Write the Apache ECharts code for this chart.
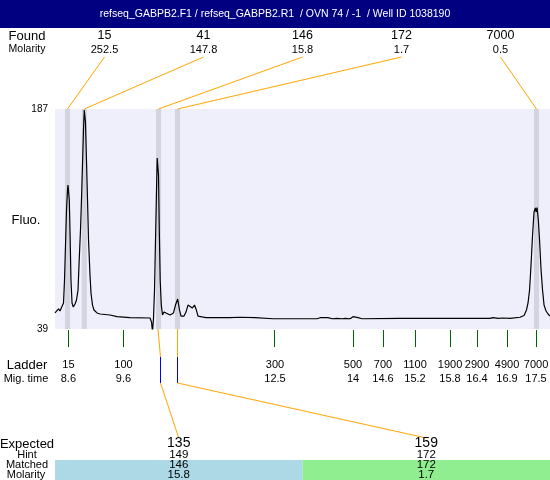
<!DOCTYPE html>
<html>
<head>
<meta charset="utf-8">
<script src="https://cdn.jsdelivr.net/npm/echarts@6/dist/echarts.min.js"></script>
<style>html,body{margin:0;padding:0;background:#fff;}#c{width:550px;height:480px;}</style>
</head>
<body>
<div id="c"></div>
<script>
// ---------- data ----------
const titleText = 'refseq_GABPB2.F1 / refseq_GABPB2.R1  / OVN 74 / -1  / Well ID 1038190';
const yMin = 39, yMax = 187;
const timeMin = 8.345, timeMax = 17.766;

const traceTime = [8.345,8.383,8.412,8.44,8.478,8.507,8.526,8.545,8.564,8.583,8.592,8.606,8.617,8.634,8.649,8.669,8.693,8.726,8.754,8.783,8.802,8.83,8.849,8.868,8.887,8.902,8.916,8.925,8.944,8.964,8.983,9.011,9.03,9.059,9.087,9.144,9.201,9.392,9.525,9.772,10.153,10.182,10.201,10.22,10.239,10.258,10.277,10.29,10.302,10.315,10.33,10.347,10.368,10.391,10.419,10.457,10.534,10.572,10.6,10.638,10.68,10.714,10.743,10.8,10.838,10.876,10.914,10.958,11.0,11.029,11.067,11.143,11.219,11.39,11.485,11.676,11.866,12.152,12.494,13.008,13.332,13.389,13.541,13.618,13.713,13.808,13.865,13.96,14.017,14.113,14.189,14.912,15.863,16.624,16.681,16.777,16.872,17.005,17.196,17.272,17.319,17.348,17.377,17.405,17.434,17.462,17.487,17.504,17.519,17.544,17.567,17.596,17.624,17.653,17.691,17.729,17.766];
const traceFluo = [49.8,51.1,52.5,51.1,50.4,56.5,72.0,95.5,119.1,132.5,135.9,135.9,125.8,98.9,72.0,56.5,53.8,55.8,58.5,65.2,82.1,105.6,125.8,149.3,172.9,186.3,187,178.2,152.7,125.8,98.9,75.3,63.2,55.1,51.8,49.8,49.1,48.4,47.3,46.7,46.4,43.7,37,46.4,65.2,98.9,132.5,154.0,154.0,142.6,105.6,72.0,55.1,48.4,50.4,49.1,48.4,49.1,49.8,55.1,59.2,51.8,47.7,47.7,50.4,55.1,55.8,53.1,55.1,52.5,47.7,47.1,46.7,46.7,46.7,46.7,46.9,46.7,45.9,45.9,45.9,46.6,46.6,45.9,46.2,45.9,46.2,45.9,47.3,46.7,45.9,46.1,46.1,46.1,46.6,46.2,46.4,46.2,46.9,48.1,51.8,56.5,65.2,82.1,102.2,117.7,120.4,117.7,120.7,112.3,98.9,78.7,65.2,55.1,51.1,49.1,47.7];

const foundSizes = [15, 41, 146, 172, 7000];
const foundMolarity = ['252.5', '147.8', '15.8', '1.7', '0.5'];
const peakTimes = [8.583, 8.903, 10.315, 10.677, 17.509];

const ladderSizes = [15, 100, 300, 500, 700, 1100, 1900, 2900, 4900, 7000];
const ladderMigLabels = ['8.6', '9.6', '12.5', '14', '14.6', '15.2', '15.8', '16.4', '16.9', '17.5'];
const ladderTimes = [8.6, 9.649, 12.532, 14.017, 14.588, 15.197, 15.863, 16.377, 16.948, 17.5];

const expectedSizes = [135, 159];
const hintSizes = [149, 172];
const matchedSizes = [146, 172];
const matchedMolarity = ['15.8', '1.7'];
const matchedTimes = [10.305, 10.677];
const hintTimes = [10.357, 10.677];

// ---------- chart ----------
const FONT = '"Liberation Sans", Arial, sans-serif';
const chart = echarts.init(document.getElementById('c'), null, {renderer: 'canvas'});

function txt(x, y, text, size, color) {
  return {type: 'text', x: x, y: y, silent: true,
    style: {text: String(text), align: 'center', verticalAlign: 'middle',
      font: size + 'px ' + FONT, fill: color || '#000'}};
}
function crisp(v) { return Math.round(v - 0.5) + 0.5; }

const option = {
  animation: false,
  backgroundColor: '#fff',
  grid: {left: 55, top: 109, width: 495, height: 220, show: true,
    backgroundColor: '#EFEFFB', borderWidth: 0},
  xAxis: {type: 'value', min: timeMin, max: timeMax, show: false},
  yAxis: {type: 'value', min: yMin, max: yMax,
    axisLine: {show: false}, axisTick: {show: false}, splitLine: {show: false},
    axisLabel: {customValues: [yMin, yMax], color: '#000', fontSize: 10, fontFamily: FONT, margin: 7}},
  graphic: [
    {type: 'rect', shape: {x: 0, y: 0, width: 550, height: 28}, style: {fill: '#000080'}, silent: true},
    txt(275, 14, titleText, 10.5, '#fff'),
    txt(27, 36, 'Found', 13),
    txt(27, 49.5, 'Molarity', 10.5),
    txt(26, 220, 'Fluo.', 13),
    txt(27, 365, 'Ladder', 13),
    txt(26, 378.5, 'Mig. time', 11),
    txt(27, 444, 'Expected', 13),
    txt(27, 455, 'Hint', 11),
    txt(27, 465, 'Matched', 11),
    txt(26, 474.5, 'Molarity', 11)
  ],
  series: [
    {
      name: 'bands', type: 'line', data: [], z: 1, silent: true,
      markArea: {silent: true, itemStyle: {color: '#D4D4E0'},
        data: peakTimes.map(t => [{xAxis: t - 0.048}, {xAxis: t + 0.048}])}
    },
    {
      name: 'trace', type: 'line', z: 3, showSymbol: false, silent: true,
      data: traceTime.map((t, i) => [t, traceFluo[i]]),
      lineStyle: {color: '#000', width: 1.2}
    },
    {
      name: 'found', type: 'custom', clip: false, z: 4, silent: true,
      data: peakTimes.map(t => [t, yMax]),
      renderItem: function (params, api) {
        const i = params.dataIndex;
        const cs = params.coordSys;
        const p = api.coord([api.value(0), yMax]);
        const lx = cs.x + cs.width * (i + 0.5) / foundSizes.length;
        return {type: 'group', children: [
          {type: 'line', shape: {x1: lx, y1: 57, x2: p[0], y2: cs.y}, style: {stroke: '#FFA500', lineWidth: 1}},
          txt(lx, 36, foundSizes[i], 12.5),
          txt(lx, 49.5, foundMolarity[i], 11)
        ]};
      }
    },
    {
      name: 'ladder', type: 'custom', clip: false, z: 4, silent: true,
      data: ladderTimes.map(t => [t, yMin]),
      renderItem: function (params, api) {
        const i = params.dataIndex;
        const p = api.coord([api.value(0), yMin]);
        const x = crisp(p[0]);
        return {type: 'group', children: [
          {type: 'line', shape: {x1: x, y1: p[1] + 1, x2: x, y2: p[1] + 18}, style: {stroke: '#006400', lineWidth: 1}},
          txt(p[0], 365, ladderSizes[i], 11),
          txt(p[0], 379, ladderMigLabels[i], 11)
        ]};
      }
    },
    {
      name: 'expected', type: 'custom', clip: false, z: 4, silent: true,
      data: matchedTimes.map(t => [t, yMin]),
      renderItem: function (params, api) {
        const i = params.dataIndex;
        const cs = params.coordSys;
        const p = api.coord([api.value(0), yMin]);
        const hx = crisp(api.coord([hintTimes[i], yMin])[0]);
        const colW = cs.width / expectedSizes.length;
        const colX = cs.x + colW * i;
        const cc = colX + colW / 2;
        const colors = ['#ADD8E6', '#90EE90'];
        return {type: 'group', children: [
          {type: 'rect', shape: {x: colX, y: 460, width: colW, height: 20}, style: {fill: colors[i]}},
          {type: 'line', shape: {x1: p[0], y1: p[1], x2: hx, y2: p[1] + 28}, style: {stroke: '#FFA500', lineWidth: 1}},
          {type: 'line', shape: {x1: hx, y1: p[1] + 28, x2: hx, y2: p[1] + 54}, style: {stroke: '#0000FF', lineWidth: 1}},
          {type: 'line', shape: {x1: hx, y1: p[1] + 54, x2: cc, y2: 438}, style: {stroke: '#FFA500', lineWidth: 1}},
          txt(cc, 443.5, expectedSizes[i], 14),
          txt(cc, 455, hintSizes[i], 11.5),
          txt(cc, 465, matchedSizes[i], 11.5),
          txt(cc, 474.5, matchedMolarity[i], 11.5)
        ]};
      }
    }
  ]
};
chart.setOption(option);
</script>
</body>
</html>
